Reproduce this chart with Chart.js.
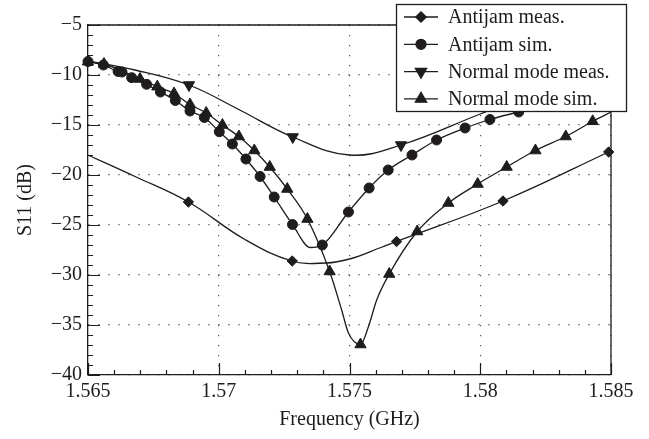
<!DOCTYPE html>
<html><head><meta charset="utf-8">
<script src="https://cdn.jsdelivr.net/npm/chart.js@4.4.1/dist/chart.umd.min.js"></script>
<style>html,body{margin:0;padding:0;background:#fff}</style>
</head><body>
<canvas id="c" width="649" height="439" style="width:649px;height:439px;display:block"></canvas>
<script>
// ---- tick labels / categories ----
const xTickValues = [1.565, 1.57, 1.575, 1.58, 1.585];
const yTickValues = [-40, -35, -30, -25, -20, -15, -10, -5];
const seriesNames = ['Antijam meas.', 'Antijam sim.', 'Normal mode meas.', 'Normal mode sim.'];
const xTitle = 'Frequency (GHz)';
const yTitle = 'S11 (dB)';

// ---- Antijam meas. (diamonds) ----
const antijamMeasFreq = [1.56884, 1.57281, 1.5768, 1.58087, 1.58491];
const antijamMeasS11  = [-22.7, -28.6, -26.65, -22.6, -17.7];
const antijamMeasLineFreq = [1.565, 1.5668, 1.5710, 1.5741, 1.575, 1.5762, 1.585];
const antijamMeasLineS11  = [-18.0, -20.15, -26.45, -28.8, -28.4, -27.25, -17.55];

// ---- Antijam sim. (circles) ----
const antijamSimFreq = [1.565, 1.56559, 1.56615, 1.5663, 1.56667, 1.56724, 1.56777, 1.56834, 1.5689, 1.56945,
  1.57002, 1.57052, 1.57104, 1.57158, 1.57212, 1.57282, 1.57396, 1.57496, 1.57575, 1.57648,
  1.57739, 1.57833, 1.57942, 1.58037, 1.58147, 1.5826, 1.5837, 1.5848];
const antijamSimS11 = [-8.65, -9.0, -9.65, -9.7, -10.27, -10.93, -11.7, -12.55, -13.6, -14.25,
  -15.67, -16.9, -18.4, -20.15, -22.2, -24.95, -27.0, -23.7, -21.3, -19.5,
  -18.0, -16.5, -15.3, -14.45, -13.7, -13.1, -12.5, -11.9];
const antijamSimLineFreq = [1.5735, 1.585];
const antijamSimLineS11  = [-27.25, -11.7];

// ---- Normal mode meas. (inverted triangles) ----
const normalMeasFreq = [1.56886, 1.57283, 1.57697, 1.5810, 1.5850];
const normalMeasS11  = [-11.0, -16.2, -17.0, -12.9, -9.3];
const normalMeasLineFreq = [1.565, 1.5668, 1.5708, 1.575, 1.5800];
const normalMeasLineS11  = [-8.6, -9.5, -13.5, -18.0, -13.9];

// ---- Normal mode sim. (triangles) ----
const normalSimFreq = [1.565, 1.56561, 1.56699, 1.56765, 1.56829, 1.5689, 1.56952, 1.57014, 1.57077, 1.57136,
  1.57195, 1.57262, 1.57339, 1.57424, 1.57542, 1.57652, 1.57759, 1.57878, 1.5799, 1.58101,
  1.58211, 1.58327, 1.5843];
const normalSimS11 = [-8.67, -8.9, -10.4, -11.17, -11.85, -12.95, -13.8, -15.0, -16.15, -17.55,
  -19.2, -21.4, -24.4, -29.65, -36.95, -29.9, -25.65, -22.8, -20.9, -19.2,
  -17.55, -16.15, -14.63];
const normalSimLineFreq = [1.5747, 1.57496, 1.57572, 1.57604, 1.585];
const normalSimLineS11  = [-33.5, -35.8, -35.2, -32.5, -13.7];

// ---------------------------------------------------------------
const FONT = '"Liberation Serif", "Times New Roman", serif';
const INK = '#1e1c1d';

function pts(f, s) { return f.map((x, i) => ({x: x, y: s[i]})); }
function curve(f1, s1, f2, s2) { return pts(f1, s1).concat(pts(f2, s2)).sort((a, b) => a.x - b.x); }

const seriesDefs = [
  {name: seriesNames[0], marks: pts(antijamMeasFreq, antijamMeasS11), line: curve(antijamMeasFreq, antijamMeasS11, antijamMeasLineFreq, antijamMeasLineS11), style: 'rectRot', rot: 0, r: 5.2, mono: false},
  {name: seriesNames[1], marks: pts(antijamSimFreq, antijamSimS11), line: curve(antijamSimFreq, antijamSimS11, antijamSimLineFreq, antijamSimLineS11), style: 'circle', rot: 0, r: 5, mono: true},
  {name: seriesNames[2], marks: pts(normalMeasFreq, normalMeasS11), line: curve(normalMeasFreq, normalMeasS11, normalMeasLineFreq, normalMeasLineS11), style: 'triangle', rot: 180, r: 6.5, mono: false},
  {name: seriesNames[3], marks: pts(normalSimFreq, normalSimS11), line: curve(normalSimFreq, normalSimS11, normalSimLineFreq, normalSimLineS11), style: 'triangle', rot: 0, r: 6.5, mono: true}
];

const datasets = [];
seriesDefs.forEach(d => {
  datasets.push({label: d.name + ' line', data: d.line, showLine: true, borderColor: INK, borderWidth: 1.3,
    pointRadius: 0, pointHoverRadius: 0, fill: false,
    cubicInterpolationMode: d.mono ? 'monotone' : 'default', tension: 0.4, order: 2});
  datasets.push({label: d.name, data: d.marks, showLine: false, pointStyle: d.style, rotation: d.rot,
    pointRadius: d.r, pointHoverRadius: d.r, pointBackgroundColor: INK, pointBorderColor: INK, pointBorderWidth: 1,
    clip: false, order: 1});
});

const framePlugin = {
  id: 'frameTicks',
  beforeDatasetsDraw(chart) {
    const {ctx, chartArea: a, scales: {x, y}} = chart;
    ctx.save();
    ctx.strokeStyle = INK; ctx.lineWidth = 1.3;
    ctx.beginPath();
    ctx.moveTo(a.left, a.top); ctx.lineTo(a.right, a.top); ctx.lineTo(a.right, a.bottom);
    ctx.stroke();
    ctx.lineWidth = 1.2;
    ctx.beginPath();
    for (let i = 0; i <= 20; i++) {
      const v = 1.565 + i * 0.001;
      const px = Math.round(x.getPixelForValue(v)) + 0.5;
      const len = (i % 5 === 0) ? 12 : 5;
      ctx.moveTo(px, a.bottom); ctx.lineTo(px, a.bottom - len);
    }
    for (let i = 0; i <= 35; i++) {
      const v = -40 + i;
      const py = Math.round(y.getPixelForValue(v)) + 0.5;
      const len = (i % 5 === 0) ? 12 : 5;
      ctx.moveTo(a.left, py); ctx.lineTo(a.left + len, py);
    }
    ctx.stroke();
    ctx.restore();
  },
  afterDraw(chart) {
    const ctx = chart.ctx;
    ctx.save();
    const bx = 396, by = 4, bw = 230, bh = 107;
    ctx.fillStyle = '#fff';
    ctx.fillRect(bx, by, bw, bh);
    ctx.strokeStyle = INK; ctx.lineWidth = 1.3;
    ctx.strokeRect(bx + 0.5, by + 0.5, bw, bh);
    ctx.font = '20px ' + FONT;
    ctx.textBaseline = 'middle';
    ctx.textAlign = 'left';
    seriesDefs.forEach((d, i) => {
      const yy = by + 13 + i * 27.3;
      ctx.strokeStyle = INK; ctx.lineWidth = 1.3;
      ctx.beginPath(); ctx.moveTo(bx + 8, yy); ctx.lineTo(bx + 42, yy); ctx.stroke();
      ctx.fillStyle = INK;
      Chart.helpers.drawPoint(ctx, {pointStyle: d.style, rotation: d.rot, radius: d.r, borderWidth: 1}, bx + 25, yy);
      ctx.fillStyle = INK;
      ctx.fillText(d.name, bx + 52, yy + 1);
    });
    ctx.restore();
  }
};

const tickFont = {family: FONT, size: 20};
new Chart(document.getElementById('c'), {
  type: 'line',
  data: {datasets: datasets},
  plugins: [framePlugin],
  options: {
    responsive: false, animation: false, devicePixelRatio: 1,
    layout: {padding: {left: 0, right: 38, top: 25, bottom: 0}},
    plugins: {legend: {display: false}, tooltip: {enabled: false}},
    scales: {
      x: {
        type: 'linear', min: 1.565, max: 1.585,
        afterBuildTicks: s => { s.ticks = xTickValues.map(v => ({value: v})); },
        afterFit: s => { s.height = 64; },
        ticks: {font: tickFont, color: INK, padding: 5, maxRotation: 0, autoSkip: false,
          callback: v => String(Number(v.toFixed(3)))},
        grid: {drawTicks: false, color: '#555', lineWidth: 1.2},
        border: {display: true, color: INK, width: 1.3, dash: [1.3, 8.7]},
        title: {display: true, text: xTitle, font: tickFont, color: INK, padding: {top: 0, bottom: 7}}
      },
      y: {
        type: 'linear', min: -40, max: -5,
        afterBuildTicks: s => { s.ticks = yTickValues.map(v => ({value: v})); },
        afterFit: s => { s.width = 88; },
        ticks: {font: tickFont, color: INK, padding: 6, autoSkip: false,
          callback: v => v < 0 ? '\u2212' + Math.abs(v) : String(v)},
        grid: {drawTicks: false, color: '#555', lineWidth: 1.2},
        border: {display: true, color: INK, width: 1.3, dash: [1.3, 8.7]},
        title: {display: true, text: yTitle, font: tickFont, color: INK, padding: {top: 14, bottom: 0}}
      }
    }
  }
});
</script>
</body></html>
